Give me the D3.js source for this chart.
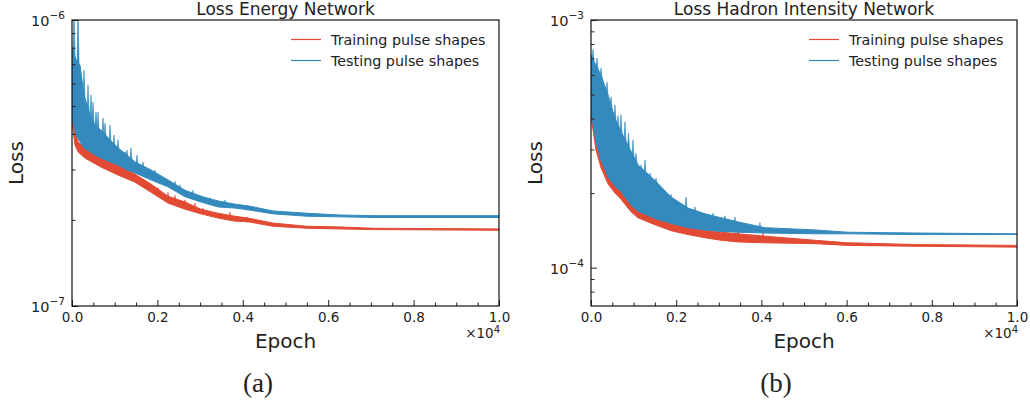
<!DOCTYPE html>
<html>
<head>
<meta charset="utf-8">
<script src="https://cdnjs.cloudflare.com/ajax/libs/d3/7.8.5/d3.min.js"></script>
<style>
  body { margin: 0; background: #fff; }
  text { font-family: "DejaVu Sans", sans-serif; fill: #222; }
</style>
</head>
<body>
<div id="viz-container"></div>
<script>
let svgWidth = 1030;
let svgHeight = 405;
let trainColor = "#E24A33";
let testColor = "#348ABD";

// x ticks (epochs)
let majorEpochs = [0, 2000, 4000, 6000, 8000, 10000];
let minorEpochs = [500, 1000, 1500, 2500, 3000, 3500, 4500, 5000, 5500, 6500, 7000, 7500, 8500, 9000, 9500];
let seriesNames = ["Training pulse shapes", "Testing pulse shapes"];

// (a) energy network -- the noisy curves are given as low/high envelope + spikes
let energyTrainEpoch = [0, 70, 141, 304, 679, 1077, 1475, 1850, 2248, 2646, 3021, 3419, 3817, 4122, 4707, 5504, 6276, 7049, 10000];
let energyTrainHi = [4.77e-7, 4.06e-7, 3.75e-7, 3.57e-7, 3.29e-7, 3.09e-7, 2.89e-7, 2.67e-7, 2.42e-7, 2.31e-7, 2.18e-7, 2.11e-7, 2.06e-7, 2.03e-7, 1.95e-7, 1.90e-7, 1.89e-7, 1.87e-7, 1.86e-7];
let energyTrainLo = [4.40e-7, 3.66e-7, 3.46e-7, 3.29e-7, 3.06e-7, 2.87e-7, 2.71e-7, 2.50e-7, 2.29e-7, 2.18e-7, 2.10e-7, 2.03e-7, 1.98e-7, 1.97e-7, 1.90e-7, 1.87e-7, 1.86e-7, 1.85e-7, 1.84e-7];
let energyTrainSpikes = [[1710, 2.69e-7], [2014, 2.59e-7], [2248, 2.50e-7], [2412, 2.44e-7], [2646, 2.35e-7], [2881, 2.29e-7], [3068, 2.20e-7], [3700, 2.13e-7], [4098, 2.05e-7]];

let energyTestEpoch = [0, 94, 187, 281, 422, 539, 679, 890, 1077, 1288, 1475, 1850, 2248, 2646, 3021, 3419, 3817, 4122, 4707, 5504, 6276, 7049, 10000];
let energyTestHi = [7.98e-7, 7.25e-7, 6.96e-7, 5.47e-7, 4.65e-7, 4.29e-7, 4.12e-7, 3.81e-7, 3.57e-7, 3.37e-7, 3.19e-7, 2.99e-7, 2.76e-7, 2.54e-7, 2.42e-7, 2.33e-7, 2.27e-7, 2.24e-7, 2.15e-7, 2.11e-7, 2.08e-7, 2.07e-7, 2.07e-7];
let energyTestLo = [4.54e-7, 3.96e-7, 3.75e-7, 3.57e-7, 3.46e-7, 3.37e-7, 3.29e-7, 3.19e-7, 3.11e-7, 2.99e-7, 2.92e-7, 2.76e-7, 2.61e-7, 2.41e-7, 2.31e-7, 2.22e-7, 2.20e-7, 2.17e-7, 2.10e-7, 2.06e-7, 2.05e-7, 2.04e-7, 2.04e-7];
let energyTestSpikes = [[47, 11e-7], [141, 11e-7], [281, 6.68e-7], [375, 5.93e-7], [445, 5.47e-7], [492, 5.17e-7], [562, 4.77e-7], [609, 4.77e-7], [726, 4.54e-7], [773, 4.36e-7], [890, 4.29e-7], [984, 3.96e-7], [1077, 3.81e-7], [1241, 3.46e-7], [1288, 3.51e-7], [1382, 3.57e-7], [1522, 3.37e-7], [1663, 3.19e-7], [1827, 2.94e-7], [1944, 2.99e-7], [2061, 2.87e-7], [2225, 2.76e-7], [2412, 2.73e-7], [2529, 2.65e-7], [2693, 2.50e-7], [2834, 2.54e-7], [2998, 2.44e-7], [3232, 2.39e-7], [3583, 2.35e-7], [4098, 2.25e-7]];

// (b) hadron intensity network
let hadronTrainEpoch = [0, 47, 117, 235, 399, 563, 704, 939, 1103, 1502, 1878, 2277, 2676, 3051, 3450, 4084, 5257, 6032, 7604, 10000];
let hadronTrainHi = [4.41e-4, 3.88e-4, 3.28e-4, 2.77e-4, 2.37e-4, 2.16e-4, 2.06e-4, 1.81e-4, 1.71e-4, 1.59e-4, 1.52e-4, 1.45e-4, 1.41e-4, 1.39e-4, 1.37e-4, 1.34e-4, 1.29e-4, 1.26e-4, 1.24e-4, 1.23e-4];
let hadronTrainLo = [4.10e-4, 3.60e-4, 2.99e-4, 2.53e-4, 2.18e-4, 2.00e-4, 1.89e-4, 1.68e-4, 1.59e-4, 1.49e-4, 1.41e-4, 1.36e-4, 1.32e-4, 1.29e-4, 1.27e-4, 1.26e-4, 1.25e-4, 1.23e-4, 1.22e-4, 1.21e-4];
let hadronTrainSpikes = [[681, 2.12e-4], [3450, 1.41e-4], [4037, 1.38e-4]];

let hadronTestEpoch = [0, 47, 117, 235, 399, 563, 704, 939, 1103, 1502, 1878, 2277, 2676, 3051, 3450, 4084, 5257, 6032, 7604, 10000];
let hadronTestHi = [7.22e-4, 6.90e-4, 6.58e-4, 6.00e-4, 4.98e-4, 4.00e-4, 3.55e-4, 2.95e-4, 2.60e-4, 2.25e-4, 1.93e-4, 1.74e-4, 1.65e-4, 1.59e-4, 1.53e-4, 1.45e-4, 1.42e-4, 1.39e-4, 1.38e-4, 1.37e-4];
let hadronTestLo = [4.30e-4, 3.82e-4, 3.22e-4, 2.72e-4, 2.33e-4, 2.13e-4, 2.03e-4, 1.79e-4, 1.69e-4, 1.58e-4, 1.51e-4, 1.45e-4, 1.42e-4, 1.40e-4, 1.39e-4, 1.38e-4, 1.37e-4, 1.37e-4, 1.36e-4, 1.36e-4];
let hadronTestSpikes = [[47, 7.6e-4], [141, 7.02e-4], [235, 6.40e-4], [329, 5.2e-4], [376, 5.62e-4], [470, 4.9e-4], [563, 4.54e-4], [634, 4.1e-4], [704, 4.14e-4], [798, 3.88e-4], [880, 3.5e-4], [986, 3.28e-4], [1056, 2.90e-4], [1174, 2.60e-4], [1267, 2.72e-4], [1385, 2.41e-4], [1526, 2.30e-4], [1690, 2.05e-4], [1878, 1.98e-4], [1995, 1.86e-4], [2230, 1.93e-4], [2441, 1.76e-4], [2629, 1.66e-4], [2864, 1.66e-4], [3145, 1.62e-4], [3380, 1.60e-4], [3966, 1.52e-4]];

let viz = d3.select("#viz-container")
  .append("svg")
    .attr("width", svgWidth)
    .attr("height", svgHeight)
    .style("background-color", "white");

let panels = [
  { id: "a", left: 72, right: 499, top: 20, bottom: 306, yDomain: [1e-7, 1e-6],
    title: "Loss Energy Network", caption: "(a)", captionX: 258, legendX: 291,
    train: { epoch: energyTrainEpoch, hi: energyTrainHi, lo: energyTrainLo, spikes: energyTrainSpikes },
    test: { epoch: energyTestEpoch, hi: energyTestHi, lo: energyTestLo, spikes: energyTestSpikes } },
  { id: "b", left: 591, right: 1017, top: 20, bottom: 306, yDomain: [7e-5, 1e-3],
    title: "Loss Hadron Intensity Network", caption: "(b)", captionX: 776, legendX: 809,
    train: { epoch: hadronTrainEpoch, hi: hadronTrainHi, lo: hadronTrainLo, spikes: hadronTrainSpikes },
    test: { epoch: hadronTestEpoch, hi: hadronTestHi, lo: hadronTestLo, spikes: hadronTestSpikes } }
];

panels.forEach(drawPanel);

function isDecade(v) {
  let l = Math.log10(v);
  return Math.abs(l - Math.round(l)) < 1e-9;
}

function drawPanel(p) {
  let x = d3.scaleLinear().domain([0, 10000]).range([p.left, p.right]);
  let y = d3.scaleLog().domain(p.yDomain).range([p.bottom, p.top]);

  viz.append("clipPath").attr("id", "clip-" + p.id)
    .append("rect")
      .attr("x", p.left).attr("y", p.top)
      .attr("width", p.right - p.left).attr("height", p.bottom - p.top);

  let plot = viz.append("g").attr("clip-path", "url(#clip-" + p.id + ")");
  drawSeries(plot, p.train, trainColor, x, y);
  drawSeries(plot, p.test, testColor, x, y);

  // x axis, ticks pointing in
  viz.append("g")
    .attr("transform", "translate(0," + p.bottom + ")")
    .call(d3.axisBottom(x).tickValues(majorEpochs).tickSize(-6).tickPadding(6)
      .tickFormat(d => (d / 10000).toFixed(1)))
    .call(g => g.select(".domain").remove())
    .call(g => g.selectAll("text").style("font-size", "13.5px").attr("font-family", null))
    .call(g => g.selectAll("line").attr("stroke", "#222"));
  viz.append("g")
    .attr("transform", "translate(0," + p.bottom + ")")
    .call(d3.axisBottom(x).tickValues(minorEpochs).tickSize(-3.5).tickFormat(""))
    .call(g => g.select(".domain").remove())
    .call(g => g.selectAll("line").attr("stroke", "#222"));

  // y axis (log)
  let allTicks = y.ticks().filter(v => v > p.yDomain[0] * 1.0001 || isDecade(v));
  let majors = allTicks.filter(isDecade);
  let minors = allTicks.filter(v => !isDecade(v));
  viz.append("g")
    .attr("transform", "translate(" + p.left + ",0)")
    .call(d3.axisLeft(y).tickValues(majors).tickSize(-6).tickFormat(""))
    .call(g => g.select(".domain").remove())
    .call(g => g.selectAll("line").attr("stroke", "#222"));
  viz.append("g")
    .attr("transform", "translate(" + p.left + ",0)")
    .call(d3.axisLeft(y).tickValues(minors).tickSize(-3.5).tickFormat(""))
    .call(g => g.select(".domain").remove())
    .call(g => g.selectAll("line").attr("stroke", "#222"));

  majors.forEach(v => {
    let t = viz.append("text")
      .attr("x", p.left - 7)
      .attr("y", y(v) + 6)
      .attr("text-anchor", "end")
      .style("font-size", "14.5px")
      .text("10");
    t.append("tspan")
      .attr("dy", -7)
      .style("font-size", "10.5px")
      .text("\u2212" + Math.abs(Math.round(Math.log10(v))));
  });

  // frame
  viz.append("rect")
    .attr("x", p.left).attr("y", p.top)
    .attr("width", p.right - p.left).attr("height", p.bottom - p.top)
    .attr("fill", "none").attr("stroke", "#111").attr("stroke-width", 1.2);

  // offset label
  let off = viz.append("text")
    .attr("x", p.right + 1).attr("y", 338)
    .attr("text-anchor", "end")
    .style("font-size", "13.5px")
    .text("\u00d710");
  off.append("tspan").attr("dy", -5).style("font-size", "10px").text("4");

  viz.append("text")
    .attr("x", (p.left + p.right) / 2).attr("y", 348)
    .attr("text-anchor", "middle")
    .style("font-size", "20px")
    .text("Epoch");

  viz.append("text")
    .attr("transform", "translate(" + (p.left - 49) + "," + ((p.top + p.bottom) / 2) + ") rotate(-90)")
    .attr("text-anchor", "middle")
    .style("font-size", "20px")
    .text("Loss");

  viz.append("text")
    .attr("x", (p.left + p.right) / 2).attr("y", 15)
    .attr("text-anchor", "middle")
    .style("font-size", "17px")
    .text(p.title);

  viz.append("text")
    .attr("x", p.captionX).attr("y", 392)
    .attr("text-anchor", "middle")
    .style("font-family", "'Liberation Serif', serif")
    .style("font-size", "27px")
    .text(p.caption);

  // legend
  [trainColor, testColor].forEach((c, i) => {
    let ly = 39.5 + i * 21;
    viz.append("line")
      .attr("x1", p.legendX).attr("x2", p.legendX + 30)
      .attr("y1", ly).attr("y2", ly)
      .attr("stroke", c).attr("stroke-width", 1.2);
    viz.append("text")
      .attr("x", p.legendX + 40).attr("y", ly + 5.5)
      .style("font-size", "14.3px")
      .text(seriesNames[i]);
  });
}

function drawSeries(g, s, color, x, y) {
  let rows = s.epoch.map((e, i) => ({ e: e, hi: s.hi[i], lo: s.lo[i] }));
  let area = d3.area()
    .x(d => x(d.e))
    .y0(d => y(d.lo))
    .y1(d => y(d.hi));
  g.append("path")
    .datum(rows)
    .attr("d", area)
    .attr("fill", color)
    .attr("stroke", color)
    .attr("stroke-width", 1)
    .attr("stroke-linejoin", "round");

  // spikes sit on the upper envelope
  let hiPx = rows.map(d => [x(d.e), y(d.hi)]);
  let bis = d3.bisector(d => d[0]).left;
  function baseAt(px) {
    let i = Math.max(1, Math.min(hiPx.length - 1, bis(hiPx, px)));
    let a = hiPx[i - 1], b = hiPx[i];
    let t = (px - a[0]) / (b[0] - a[0]);
    return a[1] + t * (b[1] - a[1]);
  }
  g.selectAll(null).data(s.spikes).enter()
    .append("path")
    .attr("d", d => {
      let px = x(d[0]);
      let base = baseAt(px) + 4;
      return "M" + (px - 1.1) + "," + base + "L" + px + "," + y(d[1]) + "L" + (px + 1.1) + "," + base + "Z";
    })
    .attr("fill", color)
    .attr("stroke", color)
    .attr("stroke-width", 0.6);
}
</script>
</body>
</html>
